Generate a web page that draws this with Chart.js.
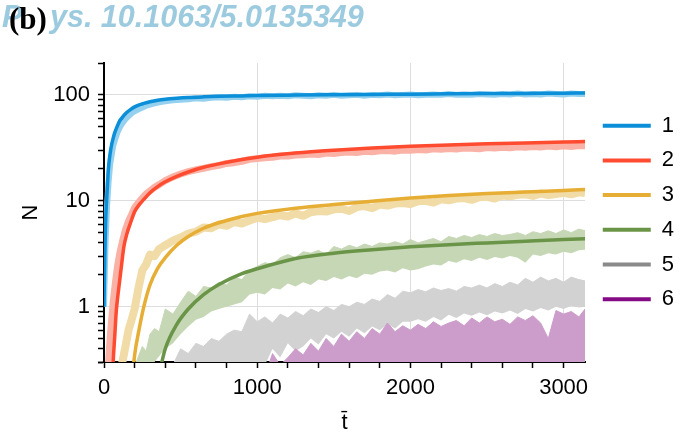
<!DOCTYPE html>
<html>
<head>
<meta charset="utf-8">
<script src="https://cdn.jsdelivr.net/npm/chart.js@4.4.0/dist/chart.umd.min.js"></script>
<style>
body { margin: 0; background: #fff; }
</style>
</head>
<body>
<canvas id="chart" width="680" height="432"></canvas>
<script>
// legend labels and colours (dark = fitted curve, light = simulation data)
const seriesNames = ['1', '2', '3', '4', '5', '6'];
const lineColors = ['#0a8fd8', '#ff4b2f', '#e7ae35', '#6a9447', '#8a8a8a', '#850a85'];
const lightColors = ['#95d0ef', '#fbb2a6', '#f1dba6', '#c6d7b5', '#d2d2d2', '#cc9dcb'];

// x values of the fitted curves
const fitTimes = [0, 5, 10, 15, 20, 30, 40, 50, 60, 70, 80, 90, 100, 115, 130, 150, 175, 200, 230, 260,
    300, 350, 400, 475, 550, 650, 750, 900, 1000, 1250, 1500, 1750, 2000, 2250, 2500, 2750, 3000, 3140];

const fit1 = [1, 3, 6, 9, 12, 21, 28, 34, 39, 44, 48, 52, 56, 60, 64, 68.5, 73, 77, 80.5, 83,
    86, 89, 91, 93, 94.5, 95.8, 96.8, 97.8, 98.5, 99.5, 100.3, 101, 101.5, 102.2, 102.8, 103.3, 103.8, 104];
const fit2 = [null, null, null, null, null, null, null, 0.12, 0.3, 0.52, 0.9, 1.25, 1.65, 2.5, 3.7, 4.9, 6.3, 7.9, 9.2, 10.3,
    11.9, 13.6, 15.1, 17.0, 18.7, 20.7, 22.3, 24.5, 25.8, 28.2, 30, 31.5, 32.7, 33.7, 34.5, 35.2, 35.8, 36.2];
const fit3 = [null, null, null, null, null, null, null, null, null, null, null, null, null, null, null, null, 0.15, 0.35, 0.62, 1.0,
    1.6, 2.3, 2.9, 3.8, 4.6, 5.5, 6.2, 7.1, 7.6, 8.5, 9.2, 9.9, 10.6, 11.2, 11.7, 12.1, 12.5, 12.8];
const fit4 = [null, null, null, null, null, null, null, null, null, null, null, null, null, null, null, null, null, null, null, null,
    null, 0.2, 0.4, 0.68, 0.95, 1.3, 1.62, 2.05, 2.28, 2.85, 3.2, 3.45, 3.67, 3.85, 4.0, 4.15, 4.3, 4.37];
const fit5 = [];   // no visible curve for 5 and 6
const fit6 = [];

// x values of the simulation data
const times = [0, 10, 20, 30, 40, 50, 60, 75, 90, 105, 120, 140, 160, 180, 200, 225, 250, 275, 300, 330, 360, 400,
    450, 500, 550, 600, 650, 700, 750, 800, 850, 900,
    950, 1000, 1050, 1100, 1150, 1200, 1250, 1300, 1350, 1400,
    1450, 1500, 1550, 1600, 1650, 1700, 1750, 1800, 1850, 1900,
    1950, 2000, 2050, 2100, 2150, 2200, 2250, 2300, 2350, 2400,
    2450, 2500, 2550, 2600, 2650, 2700, 2750, 2800, 2850, 2900,
    2950, 3000, 3050, 3100, 3140];

const data1 = [1, 4, 9, 15, 22, 27, 33, 39, 45, 50, 54, 59, 63, 67, 70, 73, 76, 79, 81, 83, 85, 87,
    89, 90, 91, 93, 92, 94, 95, 94, 96, 95,
    97, 96, 98, 97, 98, 97, 99, 98, 97, 99,
    98, 100, 98, 99, 100, 98, 100, 99, 101, 99,
    100, 101, 99, 100, 101, 100, 102, 100, 101, 100,
    102, 101, 100, 102, 101, 103, 101, 102, 101, 103,
    102, 101, 103, 102, 102];
const data2 = [0.1, 0.12, 0.2, 0.3, 0.5, 0.75, 1.1, 1.7, 2.5, 3.3, 4.1, 5.3, 6.4, 7.4, 8.6, 9.6, 10.6, 11.6, 12.4, 13.4, 14.2, 15.5,
    16.8, 17.9, 18.8, 19.6, 20.2, 21.0, 21.6, 22.5, 22.9, 23.6,
    24.6, 25.0, 25.5, 25.8, 26.5, 26.4, 27.0, 27.2, 27.6, 27.3,
    28.2, 28.0, 28.5, 28.8, 28.6, 29.3, 29.0, 29.6, 29.8, 29.4,
    30.2, 30.0, 30.5, 30.2, 31.0, 30.6, 31.2, 30.8, 31.5, 31.3,
    31.0, 31.8, 31.5, 32.0, 31.6, 32.3, 32.0, 32.5, 32.2, 32.8,
    32.4, 33.0, 32.6, 33.2, 33.0];
const data3 = [0.05, 0.05, 0.06, 0.08, 0.1, 0.12, 0.14, 0.17, 0.2, 0.25, 0.3, 0.42, 0.6, 0.75, 0.95, 1.5, 2.2, 2.5, 3.1, 3.0, 3.5, 3.8,
    4.2, 4.5, 4.9, 5.1, 5.6, 5.5, 6.0, 5.8, 6.3, 6.1,
    6.5, 6.9, 6.7, 7.0, 7.3, 7.1, 7.6, 7.2, 7.8, 8.0,
    7.9, 8.3, 8.4, 8.0, 8.7, 8.9, 8.5, 9.2, 9.0, 9.4,
    9.5, 9.3, 9.9, 10.0, 9.6, 10.3, 10.1, 10.5, 10.6, 10.2,
    10.8, 10.9, 10.5, 11.2, 11.0, 11.4, 11.5, 11.1, 11.7, 11.3,
    11.6, 11.9, 11.5, 12.0, 11.8];
const data4Low = [0.01, 0.01, 0.01, 0.01, 0.02, 0.02, 0.02, 0.03, 0.03, 0.04, 0.05, 0.06, 0.07, 0.09, 0.1, 0.12, 0.15, 0.25, 0.22, 0.3, 0.34, 0.4,
    0.45, 0.55, 0.65, 0.75, 0.8, 0.9, 0.95, 1.0, 1.05, 1.1,
    1.3, 1.35, 1.3, 1.5, 1.45, 1.65, 1.55, 1.7, 1.6, 1.8,
    1.75, 1.9, 1.8, 1.95, 1.85, 2.05, 2.0, 2.15, 2.2, 2.1,
    2.3, 2.2, 2.25, 2.4, 2.5, 2.45, 2.7, 2.6, 2.8, 2.7,
    2.9, 2.75, 2.95, 2.85, 3.0, 2.9, 2.6, 3.1, 3.0, 3.2,
    3.1, 3.3, 3.2, 3.4, 3.45];
const data4High = [0.02, 0.02, 0.02, 0.03, 0.03, 0.04, 0.05, 0.06, 0.08, 0.1, 0.12, 0.15, 0.18, 0.22, 0.27, 0.34, 0.42, 0.38, 0.55, 0.62, 0.58, 0.95,
    0.85, 1.1, 1.4, 1.25, 1.55, 1.5, 1.7, 1.6, 1.9, 1.8,
    2.2, 2.4, 2.6, 2.5, 2.9, 3.1, 2.9, 3.3, 3.2, 3.4,
    3.1, 3.7, 3.5, 3.8, 3.6, 3.9, 3.7, 4.0, 3.9, 4.1,
    3.9, 4.3, 4.0, 4.2, 4.4, 4.1, 4.6, 4.4, 4.7, 4.5,
    4.8, 4.6, 4.9, 4.7, 4.8, 5.0, 4.7, 5.1, 4.9, 5.2,
    4.9, 5.3, 5.0, 5.4, 5.2];
const data5Low = [0.01, 0.01, 0.01, 0.01, 0.01, 0.01, 0.01, 0.01, 0.01, 0.01, 0.01, 0.01, 0.01, 0.01, 0.01, 0.01, 0.01, 0.01, 0.01, 0.01, 0.01, 0.01,
    0.02, 0.03, 0.04, 0.05, 0.06, 0.08, 0.1, 0.12, 0.15, 0.18,
    0.2, 0.25, 0.28, 0.4, 0.33, 0.45, 0.38, 0.42, 0.5, 0.44,
    0.55, 0.5, 0.58, 0.52, 0.62, 0.56, 0.65, 0.6, 0.68, 0.62,
    0.72, 0.72, 0.76, 0.72, 0.8, 0.74, 0.84, 0.78, 0.86, 0.82,
    0.88, 0.83, 0.9, 0.86, 0.92, 0.85, 0.95, 0.9, 0.97, 0.92,
    1.0, 0.95, 1.02, 0.98, 1.0];
const data5High = [0.01, 0.01, 0.01, 0.01, 0.01, 0.01, 0.01, 0.02, 0.02, 0.02, 0.03, 0.03, 0.04, 0.05, 0.06, 0.07, 0.08, 0.1, 0.12, 0.14, 0.16, 0.22,
    0.28, 0.4, 0.36, 0.45, 0.42, 0.5, 0.47, 0.55, 0.6, 0.58,
    0.85, 0.72, 0.8, 0.7, 0.85, 0.78, 0.9, 0.82, 0.95, 0.88,
    1.0, 0.92, 1.05, 1.0, 1.1, 1.05, 1.18, 1.12, 1.3, 1.2,
    1.4, 1.35, 1.45, 1.38, 1.5, 1.42, 1.48, 1.4, 1.55, 1.5,
    1.6, 1.5, 1.65, 1.55, 1.7, 1.6, 1.85, 1.7, 1.9, 1.75,
    1.85, 1.7, 1.9, 1.8, 1.75];
const data6High = [0.01, 0.01, 0.01, 0.01, 0.01, 0.01, 0.01, 0.01, 0.01, 0.01, 0.01, 0.01, 0.01, 0.01, 0.01, 0.01, 0.01, 0.01, 0.01, 0.01, 0.01, 0.01,
    0.02, 0.02, 0.03, 0.03, 0.04, 0.05, 0.06, 0.07, 0.08, 0.1,
    0.12, 0.15, 0.22, 0.36, 0.28, 0.33, 0.4, 0.35, 0.45, 0.38,
    0.5, 0.42, 0.55, 0.47, 0.58, 0.5, 0.62, 0.55, 0.7, 0.58,
    0.66, 0.6, 0.68, 0.62, 0.72, 0.65, 0.7, 0.74, 0.66, 0.78,
    0.7, 0.8, 0.72, 0.76, 0.68, 0.8, 0.74, 0.82, 0.7, 0.5,
    0.92, 0.85, 0.9, 0.8, 0.95];

// y axis ticks that carry a label and a grid line
const yLabelled = [1, 10, 100];
const xLabelStep = 1000;

function pts(xs, ys) {
    return ys.map((y, i) => ({x: xs[i], y: y}));
}

const fits = [fit1, fit2, fit3, fit4, fit5, fit6];
const datasets = [];

// fitted curves first (they make the legend)
for (let i = 0; i < 6; i++) {
    datasets.push({
        label: seriesNames[i],
        data: pts(fitTimes, fits[i]),
        borderColor: lineColors[i],
        backgroundColor: lineColors[i],
        borderWidth: 3.5,
        cubicInterpolationMode: 'monotone',
        pointRadius: 0,
        fill: false,
        order: 0
    });
}

// noisy data drawn as thick light lines
const noisy = [data1, data2, data3];
const noisyWidth = [6, 7, 8];
for (let i = 0; i < 3; i++) {
    datasets.push({
        label: 'data' + (i + 1),
        data: pts(times, noisy[i]),
        borderColor: lightColors[i],
        borderWidth: noisyWidth[i],
        borderJoinStyle: 'round',
        pointRadius: 0,
        fill: false,
        order: 1
    });
}

// bands for 4 and 5 (lower + upper), area for 6
datasets.push({label: 'low4', data: pts(times, data4Low), borderWidth: 0, borderColor: lightColors[3], pointRadius: 0, fill: false, order: 2});
datasets.push({label: 'high4', data: pts(times, data4High), borderWidth: 1, borderColor: lightColors[3], backgroundColor: lightColors[3], pointRadius: 0, fill: '-1', order: 2});
datasets.push({label: 'low5', data: pts(times, data5Low), borderWidth: 0, borderColor: lightColors[4], pointRadius: 0, fill: false, order: 4});
datasets.push({label: 'high5', data: pts(times, data5High), borderWidth: 1, borderColor: lightColors[4], backgroundColor: lightColors[4], pointRadius: 0, fill: '-1', order: 4});
datasets.push({label: 'high6', data: pts(times, data6High), borderWidth: 1, borderColor: lightColors[5], backgroundColor: lightColors[5], pointRadius: 0, fill: 'start', order: 3});

const headerPlugin = {
    id: 'header',
    afterDraw(chart) {
        const c = chart.ctx;
        c.save();
        c.textBaseline = 'alphabetic';
        c.fillStyle = '#9ccbe0';
        c.font = 'italic bold 30.5px "Liberation Sans"';
        c.fillText('P', 2, 27);
        c.fillText('ys. 10.1063/5.0135349', 50, 27);
        c.fillStyle = '#000';
        c.font = 'bold 31px "Liberation Serif"';
        c.fillText('(b)', 9, 29);
        c.restore();
    }
};

// push the legend a few px right, away from the plot
const legendNudge = {
    id: 'legendNudge',
    afterLayout(chart) {
        if (chart.legend) {
            chart.legend.left += 5;
            chart.legend.right += 5;
        }
    }
};

Chart.defaults.font.family = "'Liberation Sans', Arial, sans-serif";
Chart.defaults.color = '#000';

const gridGrey = '#dddddd';
const none = 'rgba(0,0,0,0)';

new Chart(document.getElementById('chart'), {
    type: 'line',
    data: {datasets: datasets},
    options: {
        responsive: false,
        animation: false,
        layout: {padding: {top: 63, right: 1, bottom: 0, left: 0}},
        plugins: {
            legend: {
                position: 'right',
                align: 'start',
                title: {display: true, text: '', font: {size: 12, lineHeight: 1.2}, padding: 12.3},
                labels: {
                    boxWidth: 48,
                    boxHeight: 4,
                    padding: 12.7,
                    font: {size: 22},
                    filter: item => item.datasetIndex < 6,
                    generateLabels: chart => seriesNames.map((name, i) => ({
                        text: name,
                        fillStyle: lineColors[i],
                        strokeStyle: lineColors[i],
                        lineWidth: 0,
                        hidden: false,
                        datasetIndex: i
                    }))
                }
            },
            tooltip: {enabled: false}
        },
        scales: {
            x: {
                type: 'linear',
                min: 0,
                max: 3140,
                border: {color: '#000', width: 2},
                grid: {
                    color: ctx => (ctx.tick && ctx.tick.value > 0 && ctx.tick.value % xLabelStep === 0) ? gridGrey : none,
                    tickColor: '#000',
                    tickLength: 6,
                    tickWidth: 1.5
                },
                ticks: {
                    stepSize: 200,
                    includeBounds: false,
                    autoSkip: false,
                    maxRotation: 0,
                    padding: 7,
                    font: {size: 22},
                    callback: v => (v % xLabelStep === 0 ? String(v) : '')
                },
                title: {display: true, text: 't\u0304', font: {size: 22, lineHeight: 1}, padding: {top: 0, bottom: -2}},
                afterFit: s => { s.height = 70; }
            },
            y: {
                type: 'logarithmic',
                min: 0.3,
                max: 200,
                border: {color: '#000', width: 2},
                grid: {
                    color: ctx => (ctx.tick && yLabelled.includes(ctx.tick.value)) ? gridGrey : none,
                    tickColor: ctx => {
                        const v = ctx.tick ? ctx.tick.value : 0;
                        const m = v / Math.pow(10, Math.floor(Math.log10(v) + 1e-9));
                        return Math.abs(m - 1.5) < 1e-6 ? none : '#000';
                    },
                    tickLength: 6,
                    tickWidth: 1.5
                },
                ticks: {
                    autoSkip: false,
                    padding: 8,
                    font: {size: 22},
                    callback: v => (yLabelled.includes(v) ? String(v) : '')
                },
                title: {display: true, text: 'N', font: {size: 22}, padding: {top: 18, bottom: 0}},
                afterFit: s => { s.width = 104; }
            }
        }
    },
    plugins: [headerPlugin, legendNudge]
});
</script>
</body>
</html>
